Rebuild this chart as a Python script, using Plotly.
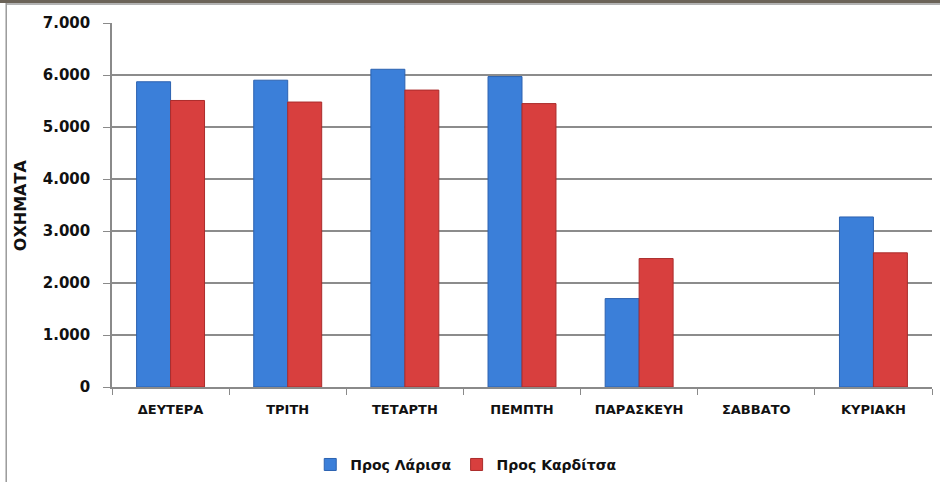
import plotly.graph_objects as go

days = ["ΔΕΥΤΕΡΑ", "ΤΡΙΤΗ", "ΤΕΤΑΡΤΗ", "ΠΕΜΠΤΗ", "ΠΑΡΑΣΚΕΥΗ", "ΣΑΒΒΑΤΟ", "ΚΥΡΙΑΚΗ"]
to_larisa = [5870, 5900, 6110, 5970, 1700, 0, 3270]
to_karditsa = [5510, 5480, 5710, 5450, 2470, 0, 2580]
y_ticks = [0, 1000, 2000, 3000, 4000, 5000, 6000, 7000]

FONT = "DejaVu Sans"
BLUE = "#3b7fd9"
RED = "#d83f3e"


def edge_widths(values):
    # no outline on empty bars so nothing is drawn for a zero value
    return [1 if v > 0 else 0 for v in values]


fig = go.Figure()
fig.add_trace(go.Bar(
    name="Προς Λάρισα", x=days, y=to_larisa,
    marker=dict(color=BLUE, line=dict(color="#2c62b0", width=edge_widths(to_larisa))),
))
fig.add_trace(go.Bar(
    name="Προς Καρδίτσα", x=days, y=to_karditsa,
    marker=dict(color=RED, line=dict(color="#ab2c2b", width=edge_widths(to_karditsa))),
))

fig.update_layout(
    width=940, height=482,
    margin=dict(l=112, r=8, t=23, b=95, autoexpand=False),
    paper_bgcolor="white", plot_bgcolor="white",
    separators=",.",
    barmode="group", bargap=0.42, bargroupgap=0,
    font=dict(family=FONT, color="#111111", size=13, weight="bold"),
    showlegend=True,
    legend=dict(
        orientation="h", x=0.432, xanchor="center",
        y=-0.17, yanchor="top", itemwidth=30,
        font=dict(family=FONT, size=14, weight="bold", color="#111111"),
        traceorder="normal",
    ),
    xaxis=dict(
        showline=True, linecolor="#8a8a8a", linewidth=1.5,
        ticks="outside", tickson="boundaries", ticklen=6, tickcolor="#8a8a8a",
        tickfont=dict(family=FONT, size=13, weight="bold"),
        ticklabelstandoff=10,
    ),
    yaxis=dict(
        range=[0, 7000], tickvals=y_ticks, tickformat=",d",
        showgrid=True, gridcolor="#8c8c8c", gridwidth=1.5,
        showline=True, linecolor="#8a8a8a", linewidth=1.5,
        ticks="outside", ticklen=7, tickcolor="#8a8a8a",
        tickfont=dict(family=FONT, size=15, weight="bold"),
        ticklabelstandoff=10,
        zeroline=False,
    ),
    annotations=[
        dict(text="ΟΧΗΜΑΤΑ", xref="paper", yref="paper", x=-0.112, y=0.5,
             xanchor="center", yanchor="middle", textangle=-90, showarrow=False,
             font=dict(family=FONT, size=16, weight="bold", color="#111111")),
    ],
    shapes=[
        # thin photo strip across the top edge
        dict(type="rect", xref="paper", yref="paper", x0=-0.2, x1=1.02, y0=1.055, y1=1.08,
             fillcolor="#6b6358", line=dict(width=0), layer="above"),
        # chart frame
        dict(type="line", xref="paper", yref="paper", x0=-0.129, x1=-0.129, y0=-0.3, y1=1.055,
             line=dict(color="#9a9a9a", width=1.5)),
        dict(type="line", xref="paper", yref="paper", x0=-0.129, x1=1.02, y0=1.052, y1=1.052,
             line=dict(color="#9a9a9a", width=1.5)),
    ],
)

fig.write_html("out.html")
